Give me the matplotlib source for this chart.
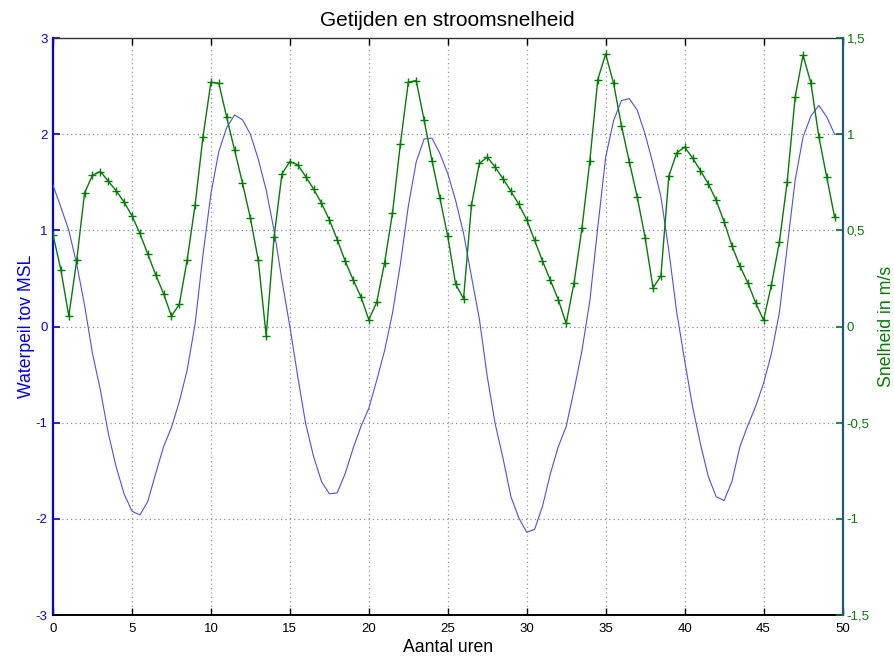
import numpy as np
import matplotlib
matplotlib.use("Agg")
import matplotlib.pyplot as plt

plt.rcParams['font.family'] = ['Liberation Sans', 'DejaVu Sans']
plt.rcParams['axes.unicode_minus'] = False

# waterpeil (m tov MSL) per half uur, 0 .. 50 uur
waterpeil = [1.47, 1.24, 1.00, 0.65, 0.22, -0.28, -0.66, -1.11, -1.46, -1.74,
             -1.92, -1.96, -1.82, -1.53, -1.25, -1.05, -0.78, -0.45, 0.03, 0.75,
             1.38, 1.82, 2.07, 2.20, 2.15, 2.00, 1.74, 1.42, 1.00, 0.48,
             0.00, -0.52, -1.01, -1.35, -1.61, -1.74, -1.73, -1.53, -1.27, -1.04,
             -0.85, -0.56, -0.25, 0.14, 0.65, 1.25, 1.71, 1.95, 1.96, 1.80,
             1.59, 1.31, 0.97, 0.52, 0.08, -0.52, -1.01, -1.37, -1.77, -1.99,
             -2.14, -2.11, -1.87, -1.53, -1.25, -1.04, -0.66, -0.25, 0.27, 1.03,
             1.76, 2.14, 2.35, 2.37, 2.25, 2.00, 1.69, 1.35, 0.79, 0.15,
             -0.35, -0.83, -1.22, -1.56, -1.77, -1.81, -1.61, -1.25, -1.03, -0.83,
             -0.59, -0.28, 0.14, 0.83, 1.52, 1.97, 2.19, 2.30, 2.18, 2.00,
             2.00]

# stroomsnelheid (m/s) per half uur, 0 .. 49.5 uur
snelheid = [0.477, 0.294, 0.054, 0.344, 0.695, 0.787, 0.806, 0.756, 0.706, 0.647,
            0.576, 0.484, 0.377, 0.270, 0.171, 0.054, 0.116, 0.348, 0.633, 0.988,
            1.270, 1.265, 1.088, 0.917, 0.746, 0.564, 0.344, -0.047, 0.465, 0.794,
            0.858, 0.841, 0.780, 0.715, 0.642, 0.555, 0.452, 0.341, 0.244, 0.154,
            0.036, 0.126, 0.332, 0.590, 0.950, 1.270, 1.279, 1.074, 0.863, 0.668,
            0.469, 0.220, 0.145, 0.630, 0.848, 0.881, 0.829, 0.768, 0.704, 0.635,
            0.555, 0.448, 0.341, 0.240, 0.140, 0.016, 0.228, 0.512, 0.863, 1.284,
            1.417, 1.265, 1.045, 0.856, 0.673, 0.462, 0.201, 0.263, 0.782, 0.903,
            0.933, 0.877, 0.811, 0.742, 0.656, 0.545, 0.419, 0.315, 0.228, 0.123,
            0.033, 0.218, 0.438, 0.754, 1.192, 1.412, 1.265, 0.988, 0.777, 0.569]

uren_peil = np.arange(len(waterpeil)) * 0.5
uren_snel = np.arange(len(snelheid)) * 0.5

x_ticks = [0, 5, 10, 15, 20, 25, 30, 35, 40, 45, 50]
peil_ticks = [-3, -2, -1, 0, 1, 2, 3]
snel_ticks = [-1.5, -1, -0.5, 0, 0.5, 1, 1.5]
snel_labels = ['-1,5', '-1', '-0,5', '0', '0,5', '1', '1,5']

blauw = (0.0, 0.0, 1.0)
groen = (0.0, 0.5, 0.0)

fig = plt.figure(figsize=(8.94, 6.56), dpi=100)
ax = fig.add_axes([0.0593, 0.0625, 0.8831, 0.8795])
ax2 = ax.twinx()

ax.plot(uren_peil, waterpeil, color=(0.3, 0.3, 1.0), lw=0.8, zorder=3)
ax2.plot(uren_snel, snelheid, color=groen, lw=1.0, marker='+', ms=6, mew=1.0)

ax.set_xlim(0, 50)
ax.set_ylim(-3, 3)
ax2.set_ylim(-1.5, 1.5)

ax.set_xticks(x_ticks)
ax.set_yticks(peil_ticks)
ax2.set_yticks(snel_ticks)
ax2.set_yticklabels(snel_labels)

# grid: vertical grey dots, horizontal blue dots
for xv in x_ticks[1:-1]:
    ax.axvline(xv, color=(0.6, 0.6, 0.6), lw=0.9, ls=(0, (1, 2.5)), zorder=1)
for yv in peil_ticks[1:-1]:
    ax.axhline(yv, color=(0.5, 0.5, 1.0), lw=0.9, ls=(0, (1, 2.5)), zorder=1)

ax.tick_params(axis='x', direction='in', top=True, length=5, width=1.0,
               colors='black', labelsize=9.5, pad=6)
ax.tick_params(axis='y', direction='in', length=5, width=1.2, colors=blauw,
               labelsize=9.5, pad=4)
ax2.tick_params(axis='y', direction='in', length=5, width=1.2, colors=groen,
                labelsize=9.5, pad=3)

ax.spines['left'].set_color(blauw)
ax.spines['left'].set_linewidth(1.6)
ax.spines['bottom'].set_linewidth(1.4)
ax.spines['top'].set_linewidth(1.0)
ax.spines['top'].set_color((0.2, 0.2, 0.2))
ax2.spines['right'].set_color((0.12, 0.35, 0.5))
ax2.spines['right'].set_linewidth(1.6)
ax2.spines['left'].set_visible(False)
for s in ['top', 'bottom']:
    ax2.spines[s].set_visible(False)
ax.spines['right'].set_visible(False)

ax.set_title('Getijden en stroomsnelheid', fontsize=15, pad=9)
ax.set_xlabel('Aantal uren', fontsize=12.7, labelpad=3)
ax.set_ylabel('Waterpeil tov MSL', fontsize=12.7, color=blauw, labelpad=0)
ax2.set_ylabel('Snelheid in m/s', fontsize=12.8, color=groen, labelpad=6)

fig.savefig('out.png', dpi=100)
